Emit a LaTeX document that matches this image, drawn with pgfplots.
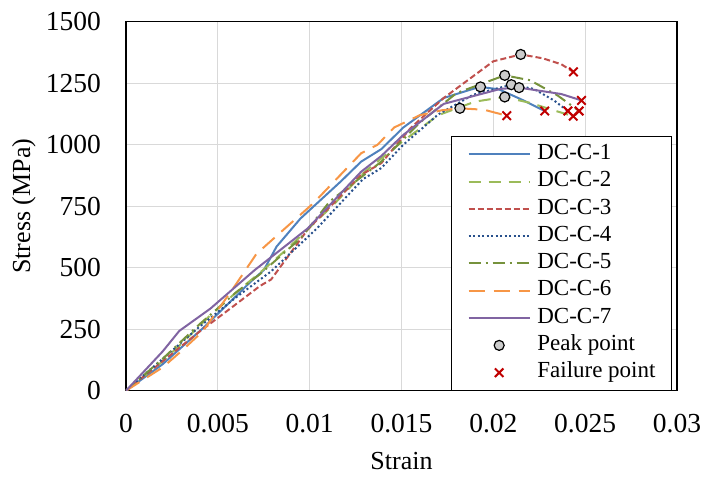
\documentclass[border=0pt]{standalone}
\usepackage{pgfplots}
\pgfplotsset{compat=1.18}
\usepackage{fontspec}
\setmainfont{Liberation Serif}

\definecolor{cA}{HTML}{4F81BD}
\definecolor{cB}{HTML}{9BBB59}
\definecolor{cC}{HTML}{C0504D}
\definecolor{cD}{HTML}{28508C}
\definecolor{cE}{HTML}{76923C}
\definecolor{cF}{HTML}{F79646}
\definecolor{cG}{HTML}{8064A2}
\definecolor{fail}{HTML}{C00000}
\definecolor{gridgray}{RGB}{217,217,217}

\begin{document}
\begin{tikzpicture}
\useasboundingbox (-126pt,-89.3pt) rectangle (580pt,390.7pt);
\begin{axis}[
  scale only axis,
  width=551pt, height=369pt,
  xmin=0, xmax=0.03, ymin=0, ymax=1500,
  scaled x ticks=false,
  xtick={0,0.005,0.01,0.015,0.02,0.025,0.03},
  xticklabels={0,0.005,0.01,0.015,0.02,0.025,0.03},
  ytick={0,250,500,750,1000,1250,1500},
  yticklabels={0,250,500,750,1000,1250,1500},
  major tick length=0pt,
  grid=major,
  major grid style={gridgray, line width=1.2pt},
  axis line style={black, line width=1.5pt},
  /pgf/number format/assume math mode=true,
  tick label style={font=\fontsize{27.5}{31}\selectfont, inner sep=0pt},
  xticklabel shift=23pt,
  yticklabel shift=25pt,
  xlabel={Strain},
  ylabel={Stress (MPa)},
  label style={font=\fontsize{26}{30}\selectfont, inner sep=0pt},
  xlabel style={at={(axis description cs:0.5,0)}, anchor=north, yshift=-61pt},
  ylabel style={at={(axis description cs:0,0.5)}, anchor=north, yshift=114pt},
  legend cell align=left,
  legend image code/.code={\draw[mark repeat=2,mark phase=2,#1]
     plot coordinates {(0pt,0pt) (30.5pt,0pt) (61pt,0pt)};},
  legend style={
    at={(axis description cs:0.991,0)}, anchor=south east,
    font=\fontsize{23}{27}\selectfont,
    draw=black, line width=1pt,
    inner xsep=16pt, inner ysep=6.6pt,
    row sep=5.45pt, column sep=6.7pt,
    nodes={inner sep=0pt, text height=16.1pt, text depth=5.75pt},
  },
  every axis plot/.append style={line width=2pt},
]
% DC-C-1
\addplot[cA, solid] coordinates {
 (0,0) (0.002,108) (0.0042,255) (0.006,385) (0.0068,444) (0.0075,490)
 (0.0082,586) (0.0095,700) (0.0117,851) (0.0128,931) (0.0139,982)
 (0.0151,1070) (0.0173,1190) (0.0189,1227) (0.0193,1235) (0.0203,1225)
 (0.0215,1185) (0.0228,1137)};
% DC-C-2
\addplot[cB, dash pattern=on 12pt off 8pt] coordinates {
 (0,0) (0.002,120) (0.003,190) (0.0045,300) (0.006,400) (0.0073,480)
 (0.0088,578) (0.0113,756) (0.013,890) (0.015,1010) (0.017,1120)
 (0.019,1175) (0.0206,1194) (0.022,1170) (0.0235,1135) (0.02435,1116)};
% DC-C-3
\addplot[cC, dash pattern=on 6pt off 3pt] coordinates {
 (0,0) (0.002,120) (0.004,240) (0.0055,324) (0.0073,426) (0.0079,452)
 (0.0099,656) (0.0128,877) (0.0139,925) (0.0155,1068) (0.0173,1190)
 (0.0200,1339) (0.02149,1367) (0.0227,1351) (0.0237,1327) (0.02436,1296)};
% DC-C-4
\addplot[cD, dash pattern=on 2pt off 2.5pt] coordinates {
 (0,0) (0.002,130) (0.004,260) (0.006,380) (0.0079,485) (0.0104,660)
 (0.0129,860) (0.0139,905) (0.0151,1000) (0.017,1123) (0.0189,1203)
 (0.02098,1244) (0.0222,1227) (0.0233,1180) (0.02406,1137)};
% DC-C-5
\addplot[cE, dash pattern=on 12pt off 5pt on 2pt off 5pt] coordinates {
 (0,0) (0.002,130) (0.004,270) (0.006,400) (0.0073,474) (0.0095,619)
 (0.0111,770) (0.0139,931) (0.016,1090) (0.018,1210) (0.02062,1282)
 (0.022,1262) (0.0235,1200) (0.02467,1137)};
% DC-C-6
\addplot[cF, dash pattern=on 16pt off 9pt] coordinates {
 (0,0) (0.002,95) (0.003,160) (0.0042,243) (0.006,434) (0.0071,556)
 (0.0086,656) (0.0102,762) (0.0128,965) (0.0137,1000) (0.0146,1070)
 (0.016,1120) (0.0172,1140) (0.01818,1148) (0.0195,1142) (0.02073,1118)};
% DC-C-7
\addplot[cG, solid] coordinates {
 (0,0) (0.002,160) (0.0029,243) (0.0046,334) (0.0070,490) (0.0099,660)
 (0.0128,890) (0.0139,954) (0.0151,1040) (0.0173,1166) (0.0204,1227)
 (0.0214,1232) (0.0237,1206) (0.0248,1180)};
% peak points
\addplot[only marks, mark=*, mark size=5pt,
  mark options={fill=gray!40, draw=black, line width=1.2pt}] coordinates {
 (0.0193,1235) (0.02062,1194) (0.02149,1367) (0.02098,1244)
 (0.02062,1282) (0.01818,1148) (0.0214,1232)};
% failure points
\addplot[only marks, mark=x, mark size=6pt,
  mark options={draw=fail, line width=2pt}] coordinates {
 (0.0228,1137) (0.02435,1116) (0.02436,1296) (0.02406,1137)
 (0.02467,1137) (0.02073,1118) (0.0248,1180)};
\legend{DC-C-1,DC-C-2,DC-C-3,DC-C-4,DC-C-5,DC-C-6,DC-C-7,Peak point,Failure point}
\end{axis}
\end{tikzpicture}
\end{document}
